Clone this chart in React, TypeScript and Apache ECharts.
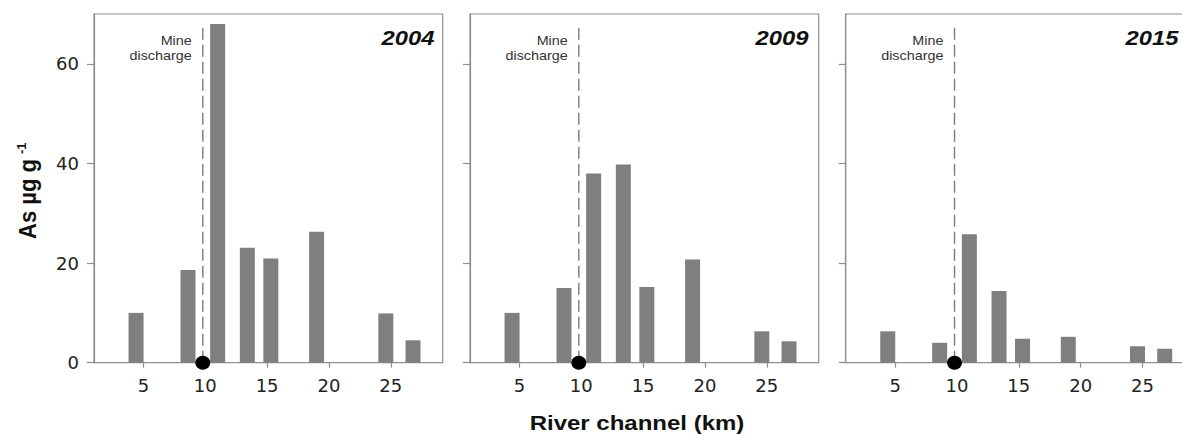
import React, { useEffect, useRef } from "react";
import * as echarts from "echarts";

// ---- data ----
const years = ["2004", "2009", "2015"];
const riverKm = [4.4, 8.6, 11.0, 13.4, 15.3, 19.0, 24.6, 26.8];
const as2004 = [10, 18.6, 68, 23.1, 20.9, 26.3, 9.9, 4.5];
const as2009 = [10, 15, 38, 39.8, 15.2, 20.7, 6.3, 4.3];
const as2015 = [6.3, 4.0, 25.8, 14.4, 4.8, 5.2, 3.3, 2.8];
const seriesValues = [as2004, as2009, as2015];
const mineKm = 9.8;
const mineLineTop = 67.7;
const xTicks = [5, 10, 15, 20, 25];
const yTicks = [0, 20, 40, 60];

const X_MIN = 1;
const X_MAX = 29.2;
const Y_MIN = 0;
const Y_MAX = 70;

const panelLefts = [94, 470, 845.7];
const panelTop = 14;
const panelW = 348.7;
const panelH = 348.7;
const yearRight = [434.5, 808.5, 1178.5];

const FONT = "'Liberation Sans', Arial, Helvetica, sans-serif";
const TICK_FONT = "'DejaVu Sans', 'Liberation Sans', Arial, sans-serif";
const BORDER = "#8f8f8f";

export default function App() {
  const ref = useRef<HTMLDivElement>(null);

  useEffect(() => {
    if (!ref.current) return;
    const chart = echarts.init(ref.current, null, { renderer: "svg" });

    const grids = panelLefts.map((left) => ({
      left,
      top: panelTop,
      width: panelW,
      height: panelH,
      show: true,
      borderColor: BORDER,
      borderWidth: 1.2,
      backgroundColor: "transparent",
      containLabel: false,
      outerBoundsMode: "none",
    }));

    const xAxes = panelLefts.map((_, i) => ({
      type: "value",
      gridIndex: i,
      min: X_MIN,
      max: X_MAX,
      axisLine: { show: true, onZero: false, lineStyle: { color: BORDER, width: 1.2 } },
      axisTick: {
        show: true,
        customValues: xTicks,
        length: 5,
        lineStyle: { color: BORDER, width: 1.2 },
      },
      axisLabel: {
        show: true,
        customValues: xTicks,
        margin: 14,
        color: "#222",
        fontSize: 18,
        fontFamily: TICK_FONT,
      },
      splitLine: { show: false },
    }));

    const yAxes = panelLefts.map((_, i) => ({
      type: "value",
      gridIndex: i,
      min: Y_MIN,
      max: Y_MAX,
      axisLine: { show: true, lineStyle: { color: BORDER, width: 1.2 } },
      axisTick: {
        show: true,
        customValues: yTicks,
        length: 7,
        lineStyle: { color: BORDER, width: 1.2 },
      },
      axisLabel: {
        show: i === 0,
        customValues: yTicks,
        margin: 15,
        color: "#222",
        fontSize: 18,
        fontFamily: TICK_FONT,
      },
      splitLine: { show: false },
    }));

    const series: any[] = [];
    seriesValues.forEach((vals, i) => {
      series.push({
        name: years[i],
        type: "bar",
        xAxisIndex: i,
        yAxisIndex: i,
        barWidth: 15,
        itemStyle: { color: "#7f7f7f" },
        data: riverKm.map((k, j) => [k, vals[j]]),
        z: 2,
      });
      series.push({
        type: "line",
        xAxisIndex: i,
        yAxisIndex: i,
        symbol: "none",
        lineStyle: { color: "#7a7a7a", width: 1.4, type: [12, 5] },
        data: [
          [mineKm, 0],
          [mineKm, mineLineTop],
        ],
        z: 3,
      });
      series.push({
        type: "scatter",
        xAxisIndex: i,
        yAxisIndex: i,
        symbol: "circle",
        symbolSize: [15, 14],
        clip: false,
        itemStyle: { color: "#000", opacity: 1 },
        data: [[mineKm, 0]],
        z: 5,
      });
    });

    const toPx = (i: number, v: number) =>
      panelLefts[i] + ((v - X_MIN) / (X_MAX - X_MIN)) * panelW;

    const graphics: any[] = [];
    panelLefts.forEach((_, i) => {
      const lx = toPx(i, mineKm) - 11;
      ["Mine", "discharge"].forEach((t, k) => {
        graphics.push({
          type: "text",
          x: lx,
          y: 40.7 + k * 15,
          scaleX: 1.15,
          z: 10,
          style: {
            text: t,
            fontSize: 12.5,
            fontFamily: FONT,
            fill: "#333",
            align: "right",
            verticalAlign: "middle",
            textAlign: "right",
            textVerticalAlign: "middle",
          },
        });
      });
      graphics.push({
        type: "text",
        x: yearRight[i],
        y: 38,
        scaleX: 1.22,
        z: 10,
        style: {
          text: years[i],
          fontSize: 19.5,
          fontWeight: "bold",
          fontStyle: "italic",
          fontFamily: FONT,
          fill: "#111",
          align: "right",
          verticalAlign: "middle",
          textAlign: "right",
          textVerticalAlign: "middle",
        },
      });
    });

    graphics.push({
      type: "text",
      x: 637,
      y: 423,
      scaleX: 1.2,
      z: 10,
      style: {
        text: "River channel (km)",
        fontSize: 20,
        fontWeight: "bold",
        fontFamily: FONT,
        fill: "#111",
        align: "center",
        verticalAlign: "middle",
        textAlign: "center",
        textVerticalAlign: "middle",
      },
    });
    graphics.push({
      type: "text",
      x: 27.5,
      y: 239,
      rotation: Math.PI / 2,
      scaleY: 1.1,
      z: 10,
      style: {
        text: "As µg g",
        fontSize: 22,
        fontWeight: "bold",
        fontFamily: FONT,
        fill: "#111",
        align: "left",
        verticalAlign: "middle",
        textAlign: "left",
        textVerticalAlign: "middle",
      },
    });
    graphics.push({
      type: "text",
      x: 21,
      y: 154,
      rotation: Math.PI / 2,
      z: 10,
      style: {
        text: "-1",
        fontSize: 13,
        fontWeight: "bold",
        fontFamily: FONT,
        fill: "#111",
        align: "left",
        verticalAlign: "middle",
        textAlign: "left",
        textVerticalAlign: "middle",
      },
    });

    chart.setOption({
      animation: false,
      backgroundColor: "#fff",
      grid: grids,
      xAxis: xAxes,
      yAxis: yAxes,
      series,
      graphic: graphics,
    });

    return () => chart.dispose();
  }, []);

  return (
    <div
      ref={ref}
      style={{ position: "fixed", left: 0, top: 0, width: 1182, height: 436, background: "#fff" }}
    />
  );
}
